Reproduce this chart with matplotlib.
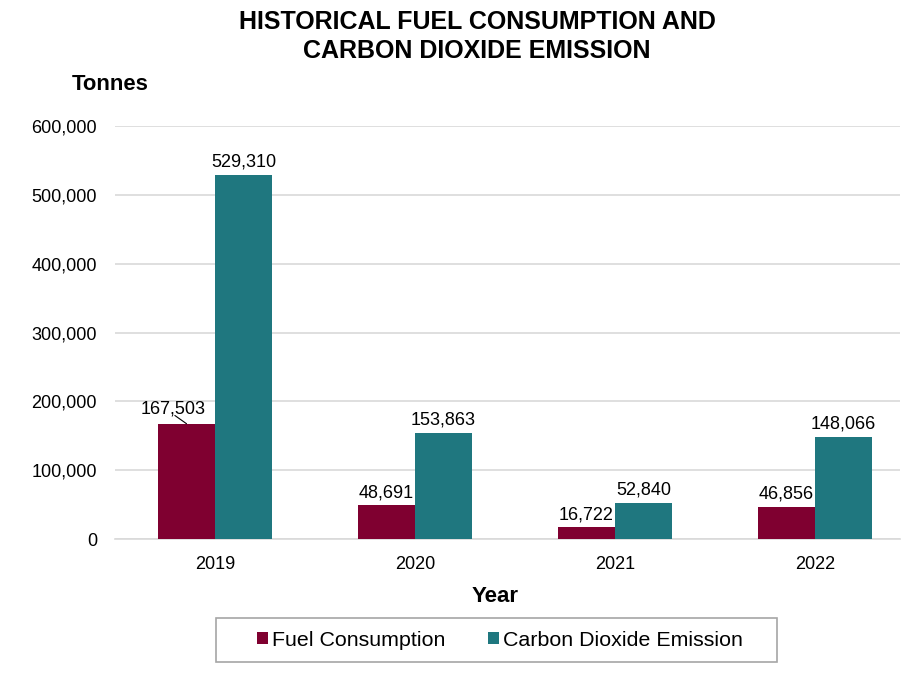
import matplotlib.pyplot as plt
import numpy as np
from matplotlib.patches import Rectangle
from matplotlib.ticker import FuncFormatter

plt.rcParams['font.family'] = ['Liberation Sans', 'DejaVu Sans']

years = ['2019', '2020', '2021', '2022']
fuel = [167503, 48691, 16722, 46856]
co2 = [529310, 153863, 52840, 148066]
yticks = [0, 100000, 200000, 300000, 400000, 500000, 600000]

fuel_color = '#7F0030'
co2_color = '#1F777F'

W, H = 901, 681
fig = plt.figure(figsize=(W / 100, H / 100), dpi=100)
ax = fig.add_axes([115 / W, 1 - 539 / H, 785 / W, (539 - 126) / H])

x = np.arange(len(years))
w = 0.285
b1 = ax.bar(x - w / 2, fuel, width=w, color=fuel_color, label='Fuel Consumption', zorder=3)
b2 = ax.bar(x + w / 2, co2, width=w, color=co2_color, label='Carbon Dioxide Emission', zorder=3)

ax.set_xlim(-0.5, 3.425)
ax.set_ylim(0, 600000)
ax.set_yticks(yticks)
ax.yaxis.set_major_formatter(FuncFormatter(lambda v, p: f'{int(v):,}'))
ax.set_xticks(x)
ax.set_xticklabels(years)
ax.tick_params(axis='both', length=0, labelsize=13, colors='#000000')
ax.tick_params(axis='y', pad=13)
ax.tick_params(axis='x', pad=12)
ax.grid(axis='y', color='#D9D9D9', linewidth=1.2, zorder=0)
for s in ['top', 'right', 'left']:
    ax.spines[s].set_visible(False)
ax.spines['bottom'].set_color('#D9D9D9')
ax.spines['bottom'].set_linewidth(1.2)

# value labels above bars
for i, (f, c) in enumerate(zip(fuel, co2)):
    if i == 0:
        # this label sits off to the left with a short leader line
        ax.annotate(f'{f:,}', xy=(i - w / 2, f), xytext=(i - w / 2 - 0.068, f + 9000),
                    ha='center', va='bottom', fontsize=13,
                    arrowprops=dict(arrowstyle='-', color='#000000', lw=0.8,
                                    shrinkA=0, shrinkB=0, patchA=None,
                                    relpos=(0.53, 0.12)))
    else:
        ax.text(i - w / 2, f + 6000, f'{f:,}', ha='center', va='bottom', fontsize=13)
    ax.text(i + w / 2, c + 6000, f'{c:,}', ha='center', va='bottom', fontsize=13)

fig.text(477 / W, 1 - 10 / H, 'HISTORICAL FUEL CONSUMPTION AND\nCARBON DIOXIDE EMISSION',
         ha='center', va='top', fontsize=18, fontweight='bold', linespacing=1.25)
fig.text(110 / W, 1 - 84 / H, 'Tonnes', ha='center', va='center',
         fontsize=15.8, fontweight='bold')
fig.text(495 / W, 1 - 597 / H, 'Year', ha='center', va='center',
         fontsize=16, fontweight='bold')

leg = fig.legend(handles=[b1, b2], loc='center', bbox_to_anchor=(500 / W, 1 - 640 / H),
                 ncol=2, fontsize=15.4, frameon=False,
                 handlelength=0.5, handleheight=0.5, handletextpad=0.2, columnspacing=2.0)

# legend border drawn separately for wider side padding
fig.patches.append(Rectangle((216 / W, 1 - 662 / H), 561 / W, 44 / H,
                             transform=fig.transFigure, fill=False,
                             edgecolor='#A6A6A6', linewidth=1.2))

fig.savefig('out.png', dpi=100)
